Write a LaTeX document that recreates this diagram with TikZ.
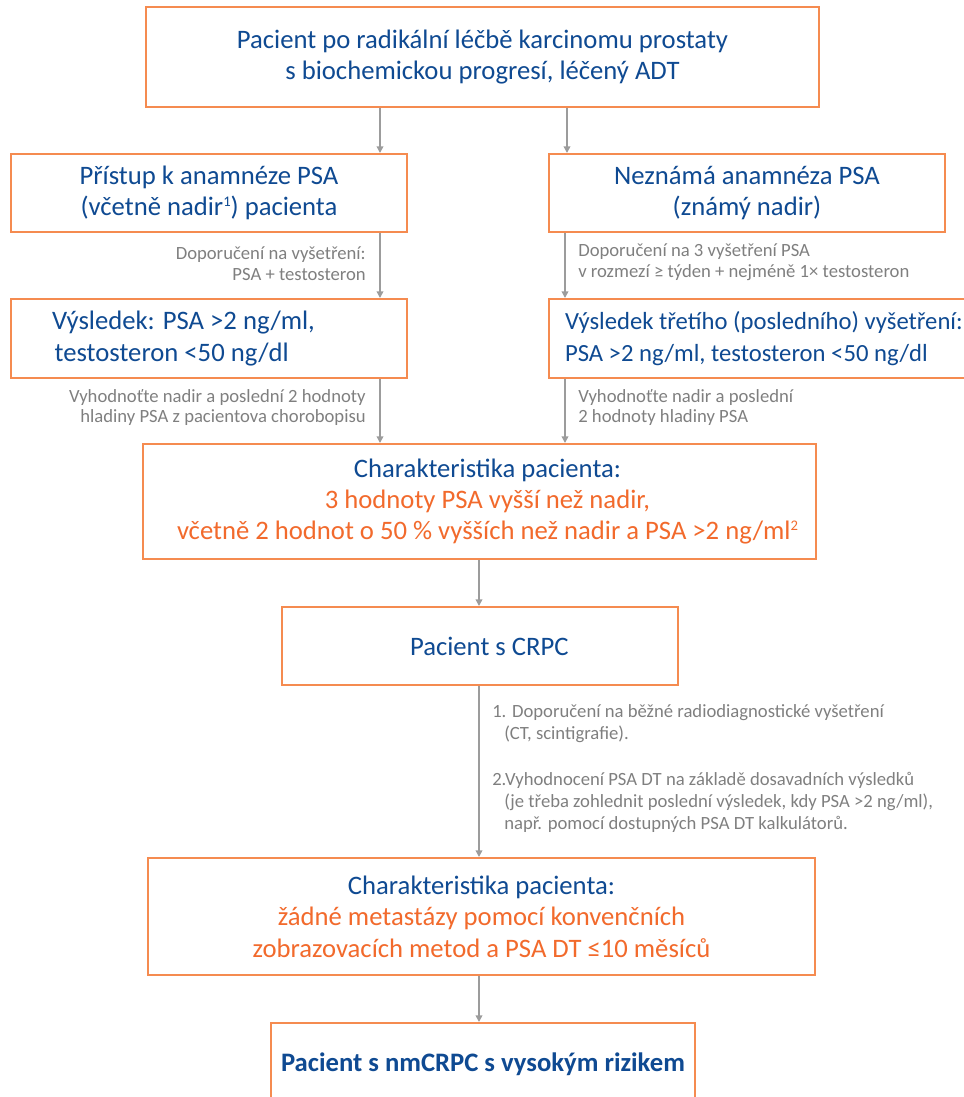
\documentclass[tikz,border=0pt]{standalone}
\usepackage{fontspec}
\setmainfont{Carlito}
\usetikzlibrary{arrows.meta}
\definecolor{boxorange}{HTML}{F58B50}
\definecolor{txtblue}{HTML}{0F4A92}
\definecolor{txtorange}{HTML}{F26A2C}
\definecolor{linegrey}{HTML}{9C9C9C}
\definecolor{notegrey}{HTML}{7F7F7F}
\newcommand\hi[1]{\textcolor{txtorange}{#1}}
\newcommand\sups[1]{\raisebox{0.75ex}{\fontsize{11}{11}\selectfont #1}}

\begin{document}
\begin{tikzpicture}[x=0.75pt,y=-0.75pt,
	box/.style={draw=boxorange, line width=1.5pt, fill=white, text=txtblue, align=center,
		font=\fontsize{20}{23.5}\selectfont, inner sep=0pt},
	flow/.style={draw=linegrey, line width=1.1pt, -{Triangle[length=5pt,width=5pt]}},
	note/.style={text=notegrey, font=\fontsize{14}{15.5}\selectfont, inner sep=0pt},
	notelow/.style={text=notegrey, font=\fontsize{14}{16.5}\selectfont, inner sep=0pt, align=left}]
	\useasboundingbox (0,0) rectangle (964,1097);
	% boxes
	\node [box, minimum width=504.75pt, minimum height=75pt] (top) at (482.5,57)
		{Pacient po radikální léčbě karcinomu prostaty\\s biochemickou progresí, léčený ADT};
	\node [box, minimum width=297pt, minimum height=58.5pt] (pl) at (209,193)
		{Přístup k anamnéze PSA\\(včetně nadir\sups{1}) pacienta};
	\node [box, minimum width=297pt, minimum height=58.5pt] (pr) at (747,193)
		{Neznámá anamnéza PSA\\(známý nadir)};
	\node [box, minimum height=59.25pt, inner xsep=30.75pt, text width=235.5pt, align=flush left] (rl) at (209,338.5)
		{Výsledek: PSA >2 ng/ml,\\\hspace*{2pt}testosteron <50 ng/dl};
	\node [box, minimum height=59.25pt, inner xsep=12pt, text width=314.25pt, align=flush left,
		font=\fontsize{18.5}{23.5}\selectfont] (rr) at (774.5,338.5)
		{Výsledek třetího (posledního) vyšetření:\\PSA >2 ng/ml, testosteron <50 ng/dl};
	\node [box, minimum width=504.75pt, minimum height=86.25pt] (ch) at (479.5,501.5)
		{\hspace*{12pt}Charakteristika pacienta:\\\hspace*{12pt}\hi{3 hodnoty PSA vyšší než nadir,}\\\hspace*{12pt}\hi{včetně 2 hodnot o 50 \% vyšších než nadir a PSA >2 ng/ml\sups{2}}};
	\node [box, minimum width=297pt, minimum height=58.5pt] (crpc) at (480,646)
		{\hspace*{14pt}Pacient s CRPC};
	\node [box, minimum width=500.25pt, minimum height=87.75pt] (ch2) at (481.5,916.5)
		{Charakteristika pacienta:\\\hi{žádné metastázy pomocí konvenčních}\\\hi{zobrazovacích metod a PSA DT ≤10 měsíců}};
	\node [box, minimum width=318pt, minimum height=61.5pt, font=\fontsize{20}{23.5}\selectfont\bfseries] (nm) at (483,1064)
		{Pacient s nmCRPC s vysokým rizikem};
	% arrow columns
	\coordinate (la) at (380,0);
	\coordinate (ra) at (567,0);
	\coordinate (rb) at (565,0);
	\coordinate (ma) at (479,0);
	\draw [flow] (top.south -| la) -- (pl.north -| la);
	\draw [flow] (top.south -| ra) -- (pr.north -| ra);
	\draw [flow] (pl.south -| la) -- (rl.north -| la);
	\draw [flow] (pr.south -| rb) -- (rr.north -| rb);
	\draw [flow] (rl.south -| la) -- (ch.north -| la);
	\draw [flow] (rr.south -| rb) -- (ch.north -| rb);
	\draw [flow] (ch.south -| ma) -- (crpc.north -| ma);
	\draw [flow] (crpc.south -| ma) -- (ch2.north -| ma);
	\draw [flow] (ch2.south -| ma) -- (nm.north -| ma);
	% notes
	\node [note, anchor=east, align=right] (n1) at (366,264) {Doporučení na vyšetření:\\PSA + testosteron};
	\node [note, anchor=west, align=left] (n2) at (578,262.5) {Doporučení na 3 vyšetření PSA\\v rozmezí ≥ týden + nejméně 1× testosteron};
	\node [note, anchor=east, align=right] (n3) at (366,407.5) {Vyhodnoťte nadir a poslední 2 hodnoty\\hladiny PSA z pacientova chorobopisu};
	\node [note, anchor=west, align=left] (n4) at (578,407.5) {Vyhodnoťte nadir a poslední\\2 hodnoty hladiny PSA};
	\node [notelow, anchor=west] (n5) at (492,723.5) {1. Doporučení na běžné radiodiagnostické vyšetření\\\hspace*{9pt}(CT, scintigrafie).};
	\node [notelow, anchor=west] (n6) at (492,802) {2.Vyhodnocení PSA DT na základě dosavadních výsledků\\\hspace*{9pt}(je třeba zohlednit poslední výsledek, kdy PSA >2 ng/ml),\\\hspace*{9pt}např. pomocí dostupných PSA DT kalkulátorů.};
\end{tikzpicture}
\end{document}
